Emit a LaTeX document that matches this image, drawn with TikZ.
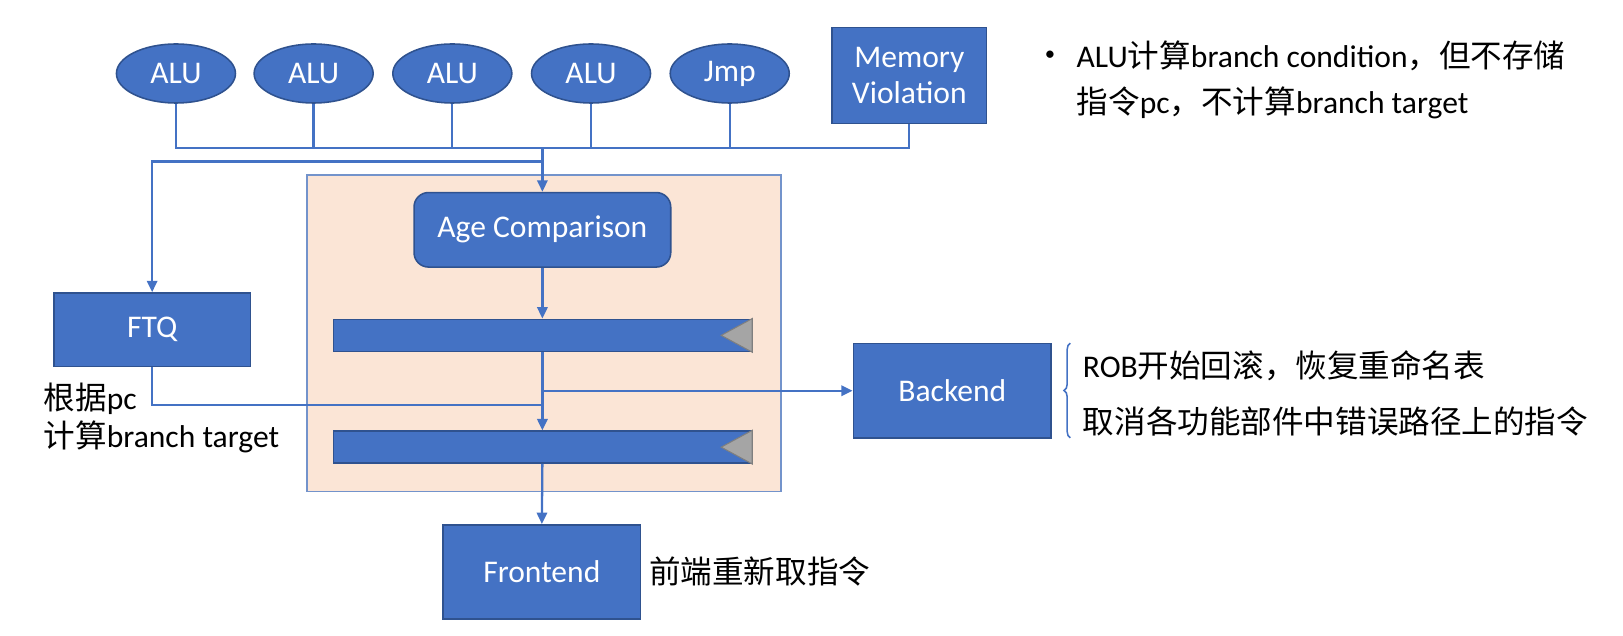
\documentclass[tikz,border=0pt]{standalone}
\usepackage{fontspec}
\setmainfont{Carlito}
\newfontfamily\cjk{Noto Sans CJK SC}
\usetikzlibrary{shapes.geometric,arrows.meta,decorations.pathreplacing}
\definecolor{boxblue}{HTML}{4472C4}
\definecolor{boxedge}{HTML}{2F528F}
\definecolor{lineblue}{HTML}{4472C4}
\definecolor{peach}{HTML}{FBE5D6}
\definecolor{peachedge}{HTML}{7393CB}
\definecolor{trigray}{HTML}{A5A5A5}
\definecolor{triedge}{HTML}{7F7F7F}
\newcommand{\boxfont}{\fontsize{30.5}{35}\selectfont}
\newcommand{\lblfont}{\fontsize{30.5}{36}\selectfont}
\tikzset{
  unit/.style={ellipse, fill=boxblue, draw=boxedge, line width=1.5pt, text=white,
    font=\boxfont, minimum width=115pt, minimum height=57pt, inner sep=0pt},
  blk/.style={rectangle, fill=boxblue, draw=boxedge, line width=1.5pt, text=white,
    font=\boxfont, inner sep=0pt, align=center},
  bar/.style={rectangle, fill=boxblue, draw=boxedge, line width=1.5pt,
    minimum width=404pt, minimum height=31pt, inner sep=0pt},
  wire/.style={draw=lineblue, line width=2.2pt},
  arr/.style={wire, -{Triangle[length=11pt,width=10pt]}},
  lbl/.style={font=\lblfont, text=black, inner sep=0pt},
  tri/.style={fill=trigray, draw=triedge, line width=1pt},
}
\begin{document}
\begin{tikzpicture}[x=1pt,y=-1pt]
\useasboundingbox (0,0) rectangle (1568,614);
% pipeline background
\node[rectangle, fill=peach, draw=peachedge, line width=1.5pt,
  minimum width=458pt, minimum height=306pt, inner sep=0pt] (pipe) at (525.5,322) {};
% sources
\node[unit] (a1) at (170,71) {ALU};
\node[unit] (a2) at (303,71) {ALU};
\node[unit] (a3) at (437,71) {ALU};
\node[unit] (a4) at (571,71) {ALU};
\node[unit] (jmp) at (705,71) {Jmp};
\node[blk, minimum width=149pt, minimum height=93pt] (mv) at (878.5,73) {Memory\\Violation};
% main blocks
\node[blk, rounded corners=14pt, minimum width=248pt, minimum height=72pt] (age) at (524,222) {Age Comparison};
\node[bar] (bar1) at (524,324) {};
\node[bar] (bar2) at (524,432) {};
\draw[tri] (bar1.north east) -- (bar1.south east) -- ([xshift=-30pt]bar1.east) -- cycle;
\draw[tri] (bar2.north east) -- (bar2.south east) -- ([xshift=-30pt]bar2.east) -- cycle;
\node[blk, minimum width=190pt, minimum height=71pt] (ftq) at (147,318.5) {FTQ};
\node[blk, minimum width=191pt, minimum height=91pt] (be) at (920,377.5) {Backend};
\node[blk, minimum width=191pt, minimum height=91pt] (fe) at (523.5,552.5) {Frontend};
% helper coordinates
\coordinate (bus) at (0,143);
\coordinate (fb) at (0,156);
\coordinate (fl) at (0,391);
% wires
\draw[wire] (a1.south) -- (a1.south |- bus) -- (mv.south |- bus) -- (mv.south);
\draw[wire] (a2.south) -- (a2.south |- bus);
\draw[wire] (a3.south) -- (a3.south |- bus);
\draw[wire] (a4.south) -- (a4.south |- bus);
\draw[wire] (jmp.south) -- (jmp.south |- bus);
\draw[arr] (age.north |- bus) -- (age.north);
\draw[arr] (age.north |- fb) -| (ftq.north);
\draw[arr] (age.south) -- (bar1.north);
\draw[arr] (bar1.south) -- (bar2.north);
\draw[wire] (ftq.south) |- (bar1.south |- fl);
\draw[arr] (bar1.south |- be.west) -- (be.west);
\draw[arr] (bar2.south) -- (fe.north);
% brace
\coordinate (brt) at (1034,331.5);
\coordinate (brb) at (1034,423);
\draw[lineblue, line width=1.5pt, decorate, decoration={brace, amplitude=6pt, mirror}] (brt) -- (brb);
% labels
\node[lbl, anchor=base west] (rob) at (1046,365) {ROB{\cjk 开始回滚，恢复重命名表}};
\node[lbl, anchor=base west] (cancel) at (1046,418.5) {{\cjk 取消各功能部件中错误路径上的指令}};
\node[lbl, anchor=base west] (refetch) at (627,564) {{\cjk 前端重新取指令}};
\node[lbl, anchor=base west] (pc1) at (42,396) {{\cjk 根据}pc};
\node[lbl, anchor=base west] (pc2) at (42,432) {{\cjk 计算}branch target};
\node[lbl, anchor=center, font=\fontsize{20}{24}\selectfont] (bullet) at (1014.5,54) {•};
\node[lbl, anchor=base west] (note1) at (1040,65) {ALU{\cjk 计算}branch condition{\cjk ，但不存储}};
\node[lbl, anchor=base west] (note2) at (1040,110) {{\cjk 指令}pc{\cjk ，不计算}branch target};
\end{tikzpicture}
\end{document}
